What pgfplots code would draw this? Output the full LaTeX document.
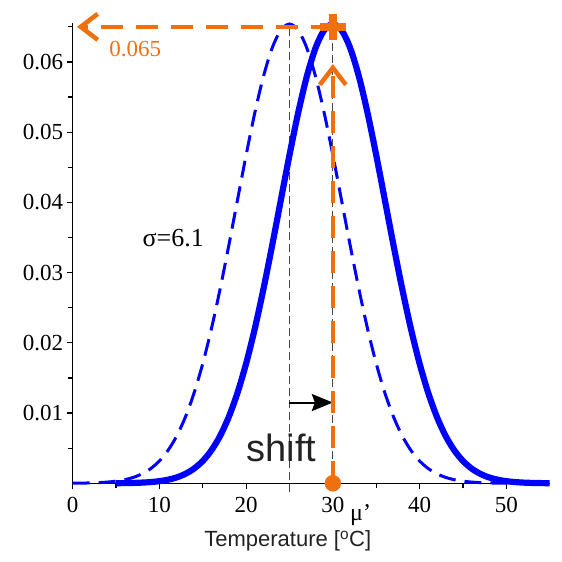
\documentclass[border=0pt]{standalone}
\usepackage{fontspec}
\setmainfont{Liberation Serif}
\newfontfamily\arial{Liberation Sans}
\usepackage{pgfplots}
\pgfplotsset{compat=1.18}
\usetikzlibrary{arrows.meta}
\definecolor{myorange}{RGB}{240,112,16}
\definecolor{refgray}{RGB}{70,70,70}
\definecolor{txtgray}{RGB}{34,34,34}
\begin{document}
\begin{tikzpicture}
\begin{axis}[
  scale only axis, width=477pt, height=460pt,
  xmin=0, xmax=55, ymin=0, ymax=0.0655,
  axis x line=bottom, axis y line=left,
  axis line style={-, line width=1.3pt},
  clip=false,
  scaled ticks=false,
  xtick={0,10,20,30,40,50}, xticklabels={0,10,20,30,40,50},
  minor xtick={5,15,25,35,45},
  ytick={0.01,0.02,0.03,0.04,0.05,0.06},
  yticklabels={0.01,0.02,0.03,0.04,0.05,0.06},
  minor ytick={0.005,0.015,0.025,0.035,0.045,0.055,0.065},
  tick align=outside, major tick length=6pt, minor tick length=5pt,
  tick style={line width=1.2pt, black},
  ticklabel style={font=\fontsize{23}{27}\selectfont},
  xticklabel style={yshift=-4pt},
]
% invisible frame fixing the picture extent
\path (rel axis cs:-0.1524,-0.1711) rectangle (rel axis cs:1.0258,1.0507);

% dashed blue (mu = 25)
\addplot[blue, line width=3pt, dash pattern=on 17pt off 9pt, smooth] coordinates {
(0,0.0000147)(1,0.0000284)(2,0.0000535)(3,0.0000979)(4,0.000175)(5,0.000303)
(6,0.000512)(7,0.000841)(8,0.00135)(9,0.00210)(10,0.00318)(11,0.00470)
(12,0.00675)(13,0.00945)(14,0.01287)(15,0.01706)(16,0.02202)(17,0.02768)
(18,0.03386)(19,0.04032)(20,0.04674)(21,0.05275)(22,0.05795)(23,0.06198)
(24,0.06453)(25,0.06540)(26,0.06453)(27,0.06198)(28,0.05795)(29,0.05275)
(30,0.04674)(31,0.04032)(32,0.03386)(33,0.02768)(34,0.02202)(35,0.01706)
(36,0.01287)(37,0.00945)(38,0.00675)(39,0.00470)(40,0.00318)(41,0.00210)
(42,0.00135)(43,0.000841)(44,0.000512)(45,0.000303)(46,0.000175)(47,0.0000979)
(48,0.0000535)(49,0.0000284)(50,0.0000147)};

% thin dashed reference lines
\addplot[refgray, line width=0.9pt, dash pattern=on 8pt off 4pt] coordinates {(25,-0.0013) (25,0.0652)};
\addplot[refgray, line width=0.9pt, dash pattern=on 8pt off 4pt] coordinates {(30,0) (30,0.065)};

% solid blue (mu = 30)
\addplot[blue, line width=6.2pt, smooth] coordinates {
(5,0.0000147)(6,0.0000284)(7,0.0000535)(8,0.0000979)(9,0.000175)(10,0.000303)
(11,0.000512)(12,0.000841)(13,0.00135)(14,0.00210)(15,0.00318)(16,0.00470)
(17,0.00675)(18,0.00945)(19,0.01287)(20,0.01706)(21,0.02202)(22,0.02768)
(23,0.03386)(24,0.04032)(25,0.04674)(26,0.05275)(27,0.05795)(28,0.06198)
(29,0.06453)(30,0.06540)(31,0.06453)(32,0.06198)(33,0.05795)(34,0.05275)
(35,0.04674)(36,0.04032)(37,0.03386)(38,0.02768)(39,0.02202)(40,0.01706)
(41,0.01287)(42,0.00945)(43,0.00675)(44,0.00470)(45,0.00318)(46,0.00210)
(47,0.00135)(48,0.000841)(49,0.000512)(50,0.000303)(51,0.000175)(52,0.0000979)
(53,0.0000535)(54,0.0000284)(55,0.0000147)};

% shift arrow
\addplot[black, line width=2pt, -{Stealth[length=21pt,width=17pt,inset=3pt]}] coordinates {(25,0.0115) (30,0.0115)};

% orange construction
\addplot[myorange, line width=4.5pt, dash pattern=on 22pt off 13pt,
  -{Straight Barb[length=17pt,width=26pt,line width=4.5pt]}] coordinates {(30,0) (30,0.0597)};
\addplot[myorange, line width=4.5pt, dash pattern=on 22pt off 13pt,
  -{Straight Barb[length=17pt,width=26pt,line width=4.5pt]}] coordinates {(30,0.065) (0.5,0.065)};
\addplot[myorange, only marks, mark=*, mark size=8pt] coordinates {(30,0)};
\addplot[myorange, only marks, mark=+, mark size=13pt, line width=8pt] coordinates {(30,0.065)};

% texts
\node[myorange, font=\fontsize{23}{27}\selectfont] at (axis cs:7.2,0.0619) {0.065};
\node[font=\fontsize{26}{30}\selectfont] at (axis cs:11.6,0.0349) {σ=6.1};
\node[txtgray, font=\arial\fontsize{38}{44}\selectfont, anchor=base] at (axis cs:24.1,0.0031) {shift};
\node[font=\fontsize{24}{28}\selectfont] at (axis cs:33.2,-0.0045) {μ’};
\node[txtgray, font=\arial\fontsize{22}{26}\selectfont] at (axis cs:24.8,-0.0082) {Temperature [\textsuperscript{o}C]};
\end{axis}
\end{tikzpicture}
\end{document}
